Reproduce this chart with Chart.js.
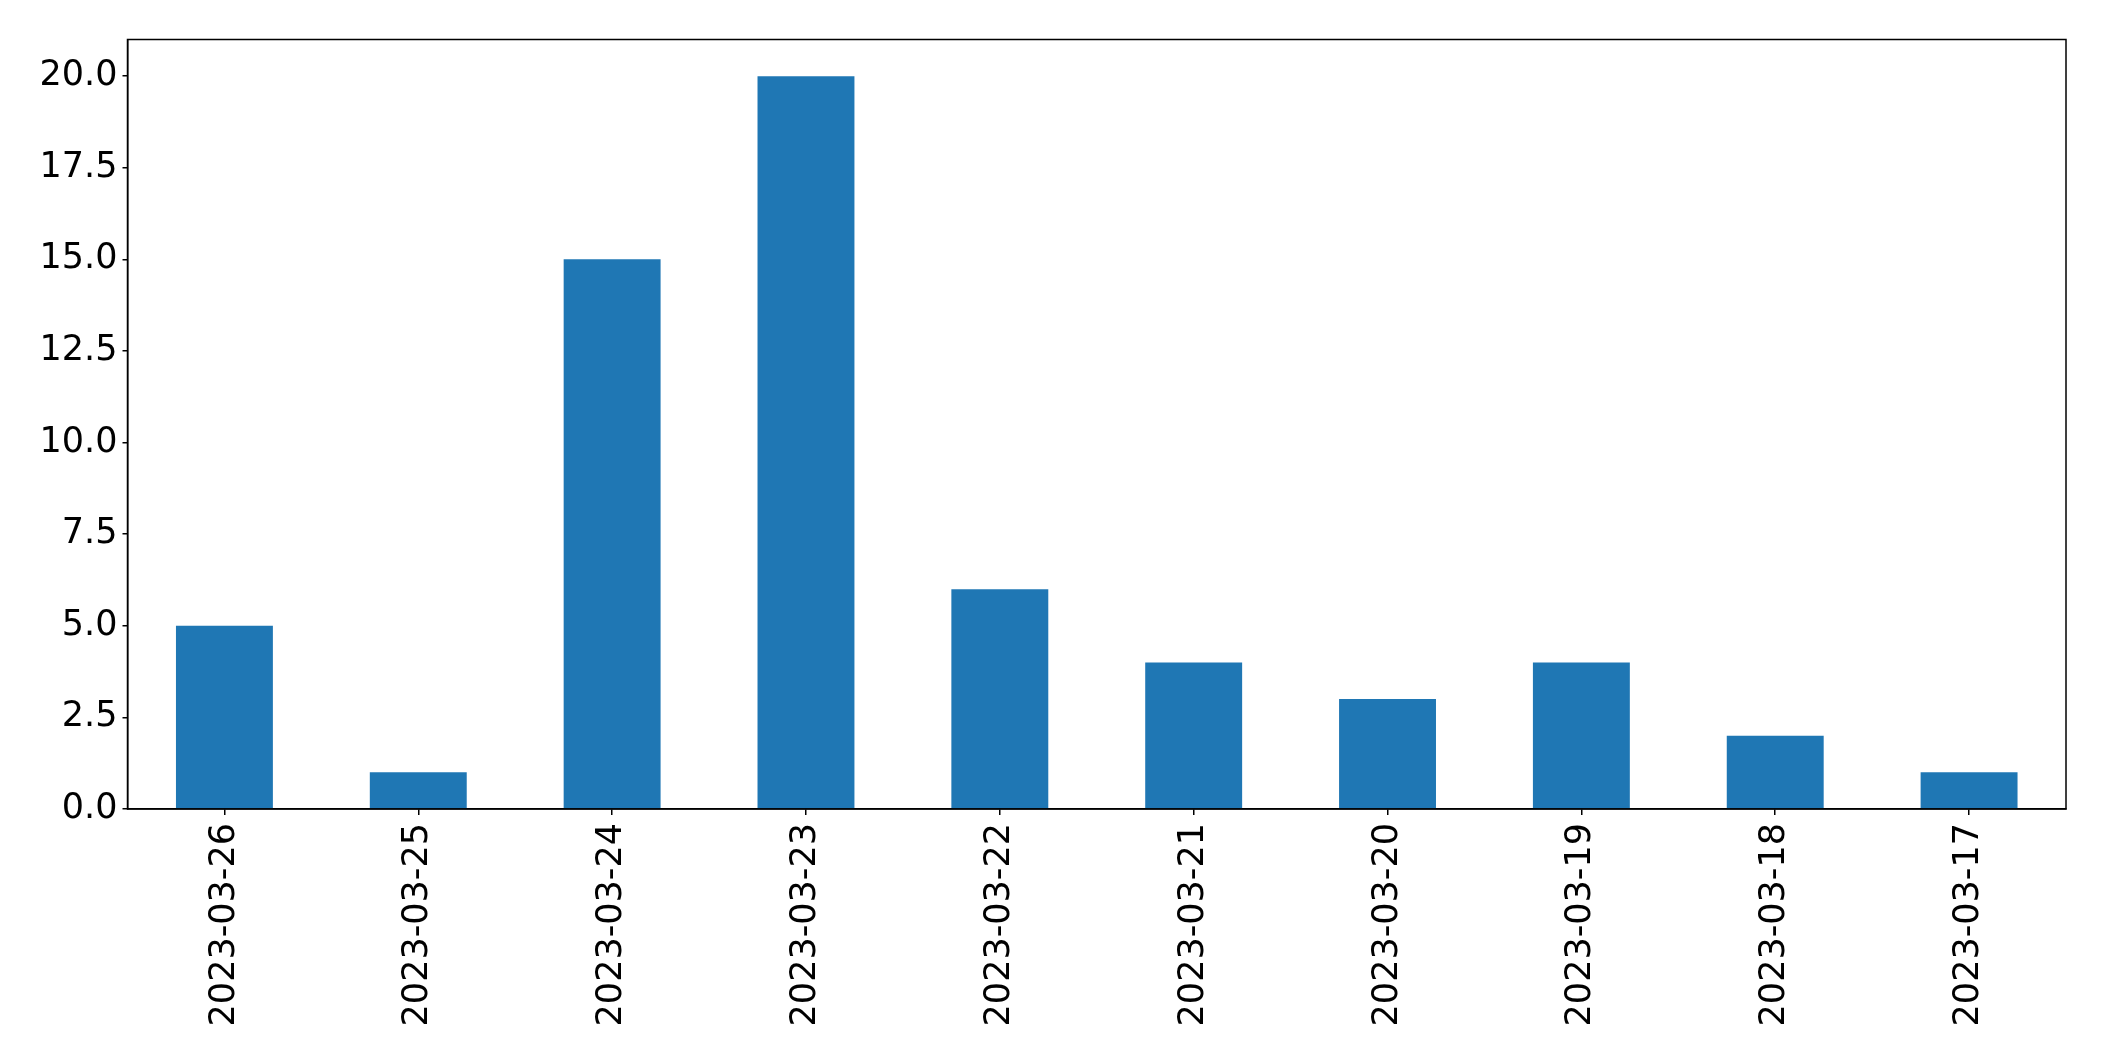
<!DOCTYPE html>
<html>
<head>
<meta charset="utf-8">
<script src="https://cdn.jsdelivr.net/npm/chart.js@4/dist/chart.umd.min.js"></script>
<style>
  html, body { margin: 0; padding: 0; background: #fff; }
  #wrap { width: 2104px; height: 1061px; }
</style>
</head>
<body>
<div id="wrap"><canvas id="c" width="2104" height="1061"></canvas></div>
<script>
const categories = ["2023-03-26","2023-03-25","2023-03-24","2023-03-23","2023-03-22","2023-03-21","2023-03-20","2023-03-19","2023-03-18","2023-03-17"];
const values = [5, 1, 15, 20, 6, 4, 3, 4, 2, 1];
const yMin = 0, yMax = 21, yStep = 2.5;

const frame = {
  id: 'frame',
  afterDraw(chart) {
    const {ctx, chartArea: a} = chart;
    ctx.save();
    ctx.strokeStyle = '#000';
    ctx.lineWidth = 1.5;
    ctx.strokeRect(a.left, a.top, a.right - a.left, a.bottom - a.top);
    ctx.restore();
  }
};

new Chart(document.getElementById('c'), {
  type: 'bar',
  data: {
    labels: categories,
    datasets: [{ data: values, backgroundColor: '#1f77b4', borderWidth: 0,
      categoryPercentage: 1.0, barPercentage: 0.5 }]
  },
  options: {
    responsive: false,
    animation: false,
    layout: { padding: { top: 39.5, right: 38, left: 0, bottom: 0 } },
    plugins: { legend: { display: false }, tooltip: { enabled: false } },
    scales: {
      x: {
        offset: true,
        grid: { drawOnChartArea: false, drawTicks: true, tickLength: 6, color: '#000', lineWidth: 1.5, offset: false },
        border: { display: true, color: '#000', width: 1.5 },
        ticks: { minRotation: 90, maxRotation: 90, autoSkip: false, padding: 8, color: '#000',
          font: { family: 'DejaVu Sans', size: 35 } },
        afterFit(s) { s.height = 252; }
      },
      y: {
        min: yMin, max: yMax,
        grid: { drawOnChartArea: false, drawTicks: true, tickLength: 5, color: '#000', lineWidth: 1.5 },
        border: { display: true, color: '#000', width: 1.5 },
        ticks: { stepSize: yStep, includeBounds: false, padding: 5, color: '#000',
          font: { family: 'DejaVu Sans', size: 35 },
          callback: v => Number(v).toFixed(1) },
        afterFit(s) { s.width = 127.5; }
      }
    }
  },
  plugins: [frame]
});
</script>
</body>
</html>
